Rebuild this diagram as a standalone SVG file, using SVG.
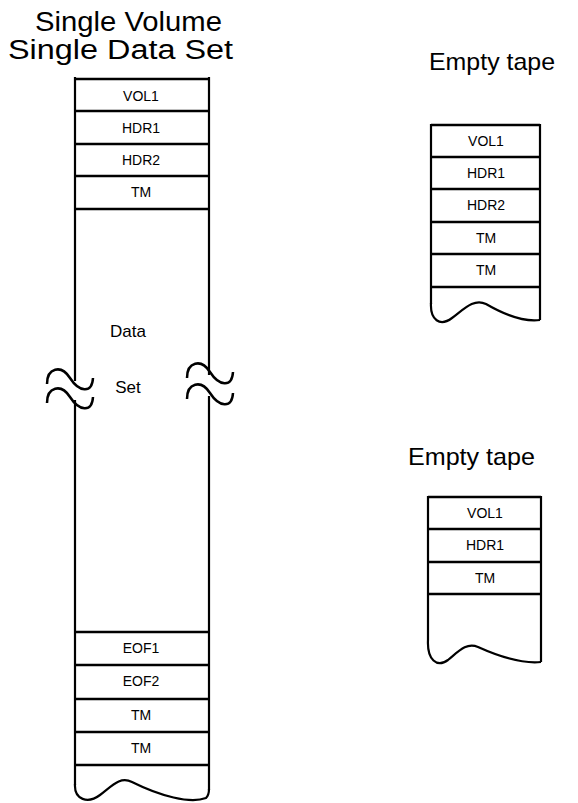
<svg xmlns="http://www.w3.org/2000/svg" width="578" height="803" viewBox="0 0 578 803">
<style>
.ln{stroke:#000;stroke-width:2.2;fill:none;stroke-linecap:butt}
.tl{stroke:#000;stroke-width:2.5;fill:none;stroke-linecap:butt}
.sep{stroke:#000;stroke-width:2.6;fill:none}
.lbl{font-family:"Liberation Sans",Arial,sans-serif;font-size:14px;fill:#000;text-anchor:middle}
.big{font-family:"Liberation Sans",Arial,sans-serif;font-size:17px;fill:#000;text-anchor:middle}
.ttl{font-family:"Liberation Sans",Arial,sans-serif;fill:#000}
</style>
<rect width="578" height="803" fill="#fff"/>
<g id="title-main">
<text class="ttl" x="35" y="31" font-size="27" textLength="187" lengthAdjust="spacingAndGlyphs">Single Volume</text>
<text class="ttl" x="8" y="59" font-size="27" textLength="225" lengthAdjust="spacingAndGlyphs">Single Data Set</text>
</g>
<g id="title-empty1"><text class="ttl" x="429" y="70" font-size="24" textLength="126" lengthAdjust="spacingAndGlyphs">Empty tape</text></g>
<g id="title-empty2"><text class="ttl" x="408" y="465" font-size="24" textLength="127" lengthAdjust="spacingAndGlyphs">Empty tape</text></g>

<g id="tape-main">
<path class="ln" d="M75,77 V381 M75,400 V785 M209,77 V375 M209,396 V790"/>
<path class="sep" d="M75,79 H209 M75,111 H209 M75,144 H209 M75,176 H209 M75,209 H209"/>
<path class="sep" d="M75,632 H209 M75,665 H209 M75,699 H209 M75,732 H209 M75,765 H209"/>
<path class="ln" d="M75,784 C74,800 88,804 100,795 C112,786 120,776 132,782 C160,796 190,804 206,798 C208,796 209,793 209,789"/>
<path class="tl" d="M47,384 C47,368 61,364 70,378 C79,392 92,394 93,378"/>
<path class="tl" d="M47,403 C47,387 61,383 70,397 C79,411 92,413 93,397"/>
<path class="tl" d="M187,378 C187,362 201,358 210,372 C219,386 232,388 233,372"/>
<path class="tl" d="M187,399 C187,383 201,379 210,393 C219,407 232,409 233,393"/>
<text class="lbl" x="141" y="101">VOL1</text>
<text class="lbl" x="141" y="133">HDR1</text>
<text class="lbl" x="141" y="165">HDR2</text>
<text class="lbl" x="141" y="197">TM</text>
<text class="big" x="128" y="337">Data</text>
<text class="big" x="128" y="393">Set</text>
<text class="lbl" x="141" y="653">EOF1</text>
<text class="lbl" x="141" y="686">EOF2</text>
<text class="lbl" x="141" y="720">TM</text>
<text class="lbl" x="141" y="753">TM</text>
</g>

<g id="tape-empty1">
<path class="ln" d="M431,124 V304 M540,124 V320"/>
<path class="sep" d="M431,125 H540 M431,157 H540 M431,189 H540 M431,222 H540 M431,254 H540 M431,287 H540"/>
<path class="ln" d="M431,303 C430,320 440,327 452,318 C464,309 474,298 486,304 C505,315 525,322 540,320"/>
<text class="lbl" x="486" y="146">VOL1</text>
<text class="lbl" x="486" y="178">HDR1</text>
<text class="lbl" x="486" y="210">HDR2</text>
<text class="lbl" x="486" y="243">TM</text>
<text class="lbl" x="486" y="275">TM</text>
</g>

<g id="tape-empty2">
<path class="ln" d="M428,496 V640 M541,496 V662"/>
<path class="sep" d="M428,497 H541 M428,529 H541 M428,562 H541 M428,594 H541"/>
<path class="ln" d="M428,640 C427,660 437,668 448,660 C458,652 466,642 478,647 C498,656 522,664 541,662"/>
<text class="lbl" x="485" y="518">VOL1</text>
<text class="lbl" x="485" y="550">HDR1</text>
<text class="lbl" x="485" y="583">TM</text>
</g>
<g id="connectors"></g>
</svg>
